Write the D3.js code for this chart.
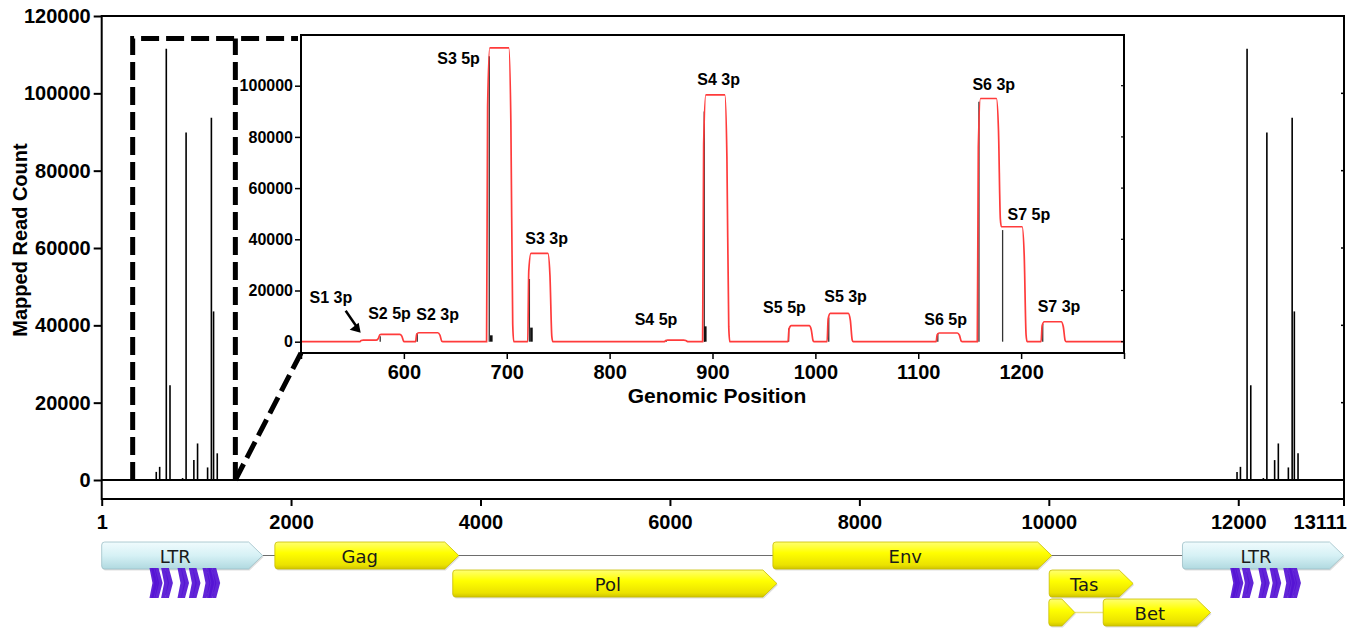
<!DOCTYPE html>
<html>
<head>
<meta charset="utf-8">
<title>Mapped Read Count</title>
<script src="https://cdn.jsdelivr.net/npm/d3@7"></script>
<style>
body { margin: 0; background: #fff; }
svg text { font-family: "Liberation Sans", Arial, sans-serif; font-weight: bold; fill: #000; }
.map text { font-family: "DejaVu Sans", sans-serif; font-weight: normal; fill: #1a1a1a; }
</style>
</head>
<body>
<div class="container"></div>
<script>
var genomeLength = 13111;
var ltr3Offset = 11410;          // 3' LTR repeats the 5' LTR

// read starts in the 5' LTR (position, mapped reads)
var peakPos    = [577, 613, 683, 722, 855, 892, 974, 1013, 1119, 1159, 1182, 1221];
var peakCounts = [2100, 3400, 111500, 24500, 500, 89900, 5150, 9450, 3250, 93700, 43600, 6900];
var minorPos    = [685, 724, 893];
var minorCounts = [2500, 5500, 6000];

// splice sites in the zoomed panel: covered span and coverage plateau
var siteNames = ["S1 3p", "S2 5p", "S2 3p", "S3 5p", "S3 3p", "S4 5p", "S4 3p",
                 "S5 5p", "S5 3p", "S6 5p", "S6 3p", "S7 5p", "S7 3p"];
var siteStart = [558, 577, 612, 681, 721, 854, 891, 974, 1012, 1118, 1158, 1180, 1220];
var siteEnd   = [576, 599, 636, 705, 743, 875, 915, 997, 1035, 1141, 1179, 1204, 1242];
var siteCover = [600, 2900, 3500, 114800, 34500, 600, 96400, 6250, 11100, 3400, 95000, 44900, 7800];

// genome map
var featNames = ["LTR", "Gag", "Pol", "Env", "Tas", "", "Bet", "LTR"];
var featStart = [1, 1829, 3707, 7087, 10004, 10000, 10574, 11411];
var featEnd   = [1700, 3770, 7129, 10030, 10890, 10275, 11707, 13111];
var featRow   = [0, 0, 1, 0, 1, 2, 2, 0];
var featKind  = ["ltr", "gene", "gene", "gene", "gene", "gene", "gene", "ltr"];

var mainTicksY = [0, 20000, 40000, 60000, 80000, 100000, 120000];
var mainTicksX = [1, 2000, 4000, 6000, 8000, 10000, 12000, 13111];
var insetTicksY = [0, 20000, 40000, 60000, 80000, 100000];
var insetTicksX = [500, 600, 700, 800, 900, 1000, 1100, 1200, 1300];

// zoom box drawn on the main panel (genomic range, read count)
var zoomFrom = 328, zoomTo = 1412, zoomTop = 114200;

var svg = d3.select(".container").append("svg")
    .attr("width", 1360).attr("height", 628);

var defs = svg.append("defs");
var gy = defs.append("linearGradient").attr("id", "gYellow").attr("x1", 0).attr("y1", 0).attr("x2", 0).attr("y2", 1);
gy.append("stop").attr("offset", "0%").attr("stop-color", "#ffff70");
gy.append("stop").attr("offset", "40%").attr("stop-color", "#ffff00");
gy.append("stop").attr("offset", "85%").attr("stop-color", "#ebe200");
gy.append("stop").attr("offset", "100%").attr("stop-color", "#cfc400");
var gl = defs.append("linearGradient").attr("id", "gLtr").attr("x1", 0).attr("y1", 0).attr("x2", 0).attr("y2", 1);
gl.append("stop").attr("offset", "0%").attr("stop-color", "#f0fbfd");
gl.append("stop").attr("offset", "50%").attr("stop-color", "#d6f1f5");
gl.append("stop").attr("offset", "100%").attr("stop-color", "#b0d9e0");

// ---------- main panel ----------
var x = d3.scaleLinear().domain([1, genomeLength]).range([101.7, 1343.5]);
var y = d3.scaleLinear().domain([0, 120000]).range([480, 16]);
var frameBottom = 499, frameRight = 1344;

var main = svg.append("g");

main.append("path")
    .attr("d", "M" + x(1) + "," + y(120000) + "H" + frameRight + "V" + frameBottom + "H" + x(1) + "Z")
    .attr("fill", "none").attr("stroke", "#000").attr("stroke-width", 2);

main.append("line")
    .attr("x1", x(1)).attr("x2", frameRight)
    .attr("y1", y(0)).attr("y2", y(0))
    .attr("stroke", "#000").attr("stroke-width", 2);

var yAxis = main.append("g")
    .attr("transform", "translate(" + x(1) + ",0)")
    .call(d3.axisLeft(y).tickValues(mainTicksY).tickSize(8).tickPadding(3).tickFormat(d3.format("d")));
yAxis.select(".domain").remove();
yAxis.selectAll("line").attr("stroke-width", 2);
yAxis.selectAll("text").attr("font-size", 20).attr("font-family", null);

var xAxis = main.append("g")
    .attr("transform", "translate(0," + frameBottom + ")")
    .call(d3.axisBottom(x).tickValues(mainTicksX).tickSize(7).tickPadding(9).tickFormat(d3.format("d")));
xAxis.select(".domain").remove();
xAxis.selectAll("line").attr("stroke-width", 2);
xAxis.selectAll("text").attr("font-size", 20).attr("font-family", null)
    .attr("text-anchor", function(d) { return d === genomeLength ? "end" : "middle"; })
    .attr("dx", function(d) { return d === genomeLength ? 3 : 0; });

// inward mirror ticks on the right edge
main.selectAll(".rtick").data(mainTicksY).enter().append("line")
    .attr("x1", frameRight - 3).attr("x2", frameRight)
    .attr("y1", function(d) { return y(d); }).attr("y2", function(d) { return y(d); })
    .attr("stroke", "#000").attr("stroke-width", 1.5);

main.append("text")
    .attr("transform", "translate(27,240) rotate(-90)")
    .attr("text-anchor", "middle")
    .attr("font-size", 20)
    .text("Mapped Read Count");

var allPeaks = [];
peakPos.forEach(function(p, i) {
    allPeaks.push({pos: p, n: peakCounts[i]});
    allPeaks.push({pos: p + ltr3Offset, n: peakCounts[i]});
});
main.selectAll(".pk").data(allPeaks).enter().append("line")
    .attr("x1", function(d) { return x(d.pos); })
    .attr("x2", function(d) { return x(d.pos); })
    .attr("y1", y(0))
    .attr("y2", function(d) { return y(d.n); })
    .attr("stroke", "#000").attr("stroke-width", 1.6);

// ---------- inset ----------
var ix = d3.scaleLinear().domain([500, 1300]).range([301, 1124]);
var iy = d3.scaleLinear().domain([0, 120000]).range([341.7, 34.5]);
var insetTop = 35, insetBottom = 353;

// dashed zoom box and connectors
var dash = svg.append("g")
    .attr("fill", "none").attr("stroke", "#000")
    .attr("stroke-width", 5).attr("stroke-dasharray", "18,7");
dash.append("path").attr("d", "M" + x(zoomFrom) + "," + y(0) + "V" + y(zoomTop) + "H" + (ix(500) - 3));
dash.append("path").attr("d", "M" + x(zoomTo) + "," + y(0) + "V" + y(zoomTop));
dash.append("path").attr("d", "M" + x(zoomTo) + "," + y(0) + "L" + ix(500) + "," + insetBottom);

var inset = svg.append("g");
inset.append("rect")
    .attr("x", ix(500)).attr("y", insetTop)
    .attr("width", ix(1300) - ix(500)).attr("height", insetBottom - insetTop)
    .attr("fill", "#fff");

inset.selectAll(".ipk").data(peakPos).enter().append("line")
    .attr("x1", function(d) { return ix(d); }).attr("x2", function(d) { return ix(d); })
    .attr("y1", iy(0))
    .attr("y2", function(d, i) { return iy(peakCounts[i]); })
    .attr("stroke", "#333").attr("stroke-width", 1.3);
inset.selectAll(".imk").data(minorPos).enter().append("line")
    .attr("x1", function(d) { return ix(d); }).attr("x2", function(d) { return ix(d); })
    .attr("y1", iy(0))
    .attr("y2", function(d, i) { return iy(minorCounts[i]); })
    .attr("stroke", "#111").attr("stroke-width", 2.6);

function coverPoints() {
    var pts = [[500, 0]];
    siteStart.forEach(function(s, i) {
        var e = siteEnd[i], h = siteCover[i];
        var prevAdj = i > 0 && s <= siteEnd[i - 1] + 1;
        var nextAdj = i < siteStart.length - 1 && siteStart[i + 1] <= e + 1;
        var t = nextAdj ? siteCover[i + 1] : 0;
        if (!prevAdj) {
            pts.push([s - 0.6, 0]);
            pts.push([s + 0.4, h * 0.8]);
        }
        pts.push([s + 2.5, h]);
        pts.push([e - 3, h]);
        pts.push([e - 1, t + (h - t) * 0.75]);
        pts.push([e + 0.8, t + (h - t) * 0.06]);
        pts.push([e + 1.8, t]);
    });
    pts.push([1300, 0]);
    return pts;
}

inset.append("path")
    .datum(coverPoints())
    .attr("d", d3.line()
        .x(function(d) { return ix(d[0]); })
        .y(function(d) { return iy(d[1]); })
        .curve(d3.curveMonotoneX))
    .attr("fill", "none").attr("stroke", "#ff3b3b").attr("stroke-width", 1.7);

inset.append("rect")
    .attr("x", ix(500)).attr("y", insetTop)
    .attr("width", ix(1300) - ix(500)).attr("height", insetBottom - insetTop)
    .attr("fill", "none").attr("stroke", "#000").attr("stroke-width", 2);

var iyAxis = inset.append("g")
    .attr("transform", "translate(" + ix(500) + ",0)")
    .call(d3.axisLeft(iy).tickValues(insetTicksY).tickSize(6).tickPadding(2).tickFormat(d3.format("d")));
iyAxis.select(".domain").remove();
iyAxis.selectAll("line").attr("stroke-width", 1.5);
iyAxis.selectAll("text").attr("font-size", 16).attr("font-family", null);

var ixAxis = inset.append("g")
    .attr("transform", "translate(0," + insetBottom + ")")
    .call(d3.axisBottom(ix).tickValues(insetTicksX).tickSize(6).tickPadding(6)
        .tickFormat(function(d) { return (d === 500 || d === 1300) ? "" : d; }));
ixAxis.select(".domain").remove();
ixAxis.selectAll("line").attr("stroke-width", 1.5);
ixAxis.selectAll("text").attr("font-size", 20).attr("font-family", null);

inset.selectAll(".irt").data(insetTicksY).enter().append("line")
    .attr("x1", ix(1300) - 3).attr("x2", ix(1300))
    .attr("y1", function(d) { return iy(d); }).attr("y2", function(d) { return iy(d); })
    .attr("stroke", "#000").attr("stroke-width", 1.2);

inset.append("text")
    .attr("x", 717).attr("y", 403)
    .attr("text-anchor", "middle").attr("font-size", 21)
    .text("Genomic Position");

// site labels sit over their plateau; a few are nudged to clear neighbours
var labelNudge = {
    "S1 3p": [-39, -27], "S2 5p": [-2, -5], "S2 3p": [9, -3], "S3 5p": [-41, 26],
    "S3 3p": [7, 1], "S4 5p": [-20, -5], "S4 3p": [3, 0], "S5 5p": [-16, -3],
    "S5 3p": [6, -1], "S6 5p": [-3, 2], "S6 3p": [5, 1], "S7 5p": [16, 3], "S7 3p": [6, 0]
};
inset.selectAll(".slab").data(siteNames).enter().append("text")
    .attr("x", function(d, i) { return ix((siteStart[i] + siteEnd[i]) / 2) + labelNudge[d][0]; })
    .attr("y", function(d, i) { return iy(siteCover[i]) - 10 + labelNudge[d][1]; })
    .attr("text-anchor", "middle").attr("font-size", 16)
    .text(function(d) { return d; });

// arrow from the S1 3p label to its small peak
var ax = ix(siteStart[0]), ay = iy(0) - 9;
inset.append("line")
    .attr("x1", ax - 15).attr("y1", ay - 22).attr("x2", ax - 4).attr("y2", ay - 6)
    .attr("stroke", "#000").attr("stroke-width", 2.5);
inset.append("path")
    .attr("d", "M" + ax + "," + ay + "L" + (ax - 11) + "," + (ay - 3) + "L" + (ax - 2) + "," + (ay - 10) + "Z")
    .attr("fill", "#000");

// ---------- genome map ----------
var map = svg.append("g").attr("class", "map");
var rowTop = [542, 570, 599], rowH = 27;

map.append("line")
    .attr("x1", x(featEnd[0])).attr("x2", x(featStart[7]))
    .attr("y1", rowTop[0] + rowH / 2).attr("y2", rowTop[0] + rowH / 2)
    .attr("stroke", "#6d6d6d").attr("stroke-width", 1.2);
map.append("line")
    .attr("x1", x(featEnd[5])).attr("x2", x(featStart[6]))
    .attr("y1", rowTop[2] + rowH / 2).attr("y2", rowTop[2] + rowH / 2)
    .attr("stroke", "#ece48a").attr("stroke-width", 1.5);

function featurePath(x0, x1, top, h) {
    var tip = Math.min(14, (x1 - x0) / 2), r = 3, mid = top + h / 2, bot = top + h;
    return "M" + (x0 + r) + "," + top + "H" + (x1 - tip) + "L" + x1 + "," + mid + "L" + (x1 - tip) + "," + bot +
        "H" + (x0 + r) + "Q" + x0 + "," + bot + " " + x0 + "," + (bot - r) + "V" + (top + r) +
        "Q" + x0 + "," + top + " " + (x0 + r) + "," + top + "Z";
}

var feats = map.selectAll(".feat").data(featNames).enter().append("g");
feats.append("path")
    .attr("d", function(d, i) { return featurePath(x(featStart[i]), x(featEnd[i]), rowTop[featRow[i]], rowH); })
    .attr("transform", "translate(1,1.5)")
    .attr("fill", "#000").attr("opacity", 0.13);
feats.append("path")
    .attr("d", function(d, i) { return featurePath(x(featStart[i]), x(featEnd[i]), rowTop[featRow[i]], rowH); })
    .attr("fill", function(d, i) { return featKind[i] === "ltr" ? "url(#gLtr)" : "url(#gYellow)"; })
    .attr("stroke", function(d, i) { return featKind[i] === "ltr" ? "#9cbfc6" : "#c8bd00"; })
    .attr("stroke-width", 0.8);
feats.append("text")
    .attr("x", function(d, i) { return (x(featStart[i]) + x(featEnd[i]) - 14) / 2; })
    .attr("y", function(d, i) { return rowTop[featRow[i]] + rowH / 2 + 7; })
    .attr("text-anchor", "middle").attr("font-size", 18)
    .text(function(d) { return d; });

// site chevrons under both LTRs
var chev = [];
siteStart.forEach(function(s) { chev.push(s); chev.push(s + ltr3Offset); });
map.selectAll(".chev").data(chev).enter().append("path")
    .attr("d", function(d) {
        var x0 = x(d) - 5, top = 568, bot = 598, mid = (top + bot) / 2;
        return "M" + x0 + "," + top + "L" + (x0 + 4) + "," + top + "L" + (x0 + 8) + "," + mid +
            "L" + (x0 + 4) + "," + bot + "L" + x0 + "," + bot + "L" + (x0 + 3) + "," + mid + "Z";
    })
    .attr("fill", "#5512d4").attr("opacity", 0.92);
</script>
</body>
</html>
